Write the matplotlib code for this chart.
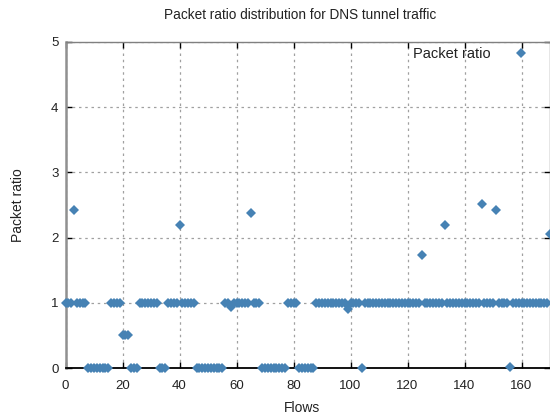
import matplotlib
matplotlib.use("Agg")
import matplotlib.pyplot as plt

# packet ratio per flow (flow index = position in list)
ratios = [
    1, 1, 1, 2.43, 1, 1, 1, 1,                      # 0-7
    0, 0, 0, 0, 0, 0, 0, 0,                         # 8-15
    1, 1, 1, 1,                                     # 16-19
    0.5, 0.5, 0.5,                                  # 20-22
    0, 0, 0,                                        # 23-25
    1, 1, 1, 1, 1, 1, 1,                            # 26-32
    0, 0, 0,                                        # 33-35
    1, 1, 1, 1, 2.19, 1, 1, 1, 1, 1,                # 36-45
    0, 0, 0, 0, 0, 0, 0, 0, 0, 0,                   # 46-55
    1, 1, 0.94, 1, 1, 1, 1, 1, 1, 2.38, 1, 1, 1,    # 56-68
    0, 0, 0, 0, 0, 0, 0, 0, 0,                      # 69-77
    1, 1, 1, 1,                                     # 78-81
    0, 0, 0, 0, 0, 0,                               # 82-87
    1, 1, 1, 1, 1, 1, 1, 1, 1, 1, 1, 0.9,           # 88-99
    1, 1, 1, 1, 0,                                  # 100-104
    1, 1, 1, 1, 1, 1, 1, 1, 1, 1,                   # 105-114
    1, 1, 1, 1, 1, 1, 1, 1, 1, 1, 1.74,             # 115-125
    1, 1, 1, 1, 1, 1, 1, 2.2,                       # 126-133
    1, 1, 1, 1, 1, 1, 1, 1, 1, 1, 1, 1, 2.51,       # 134-146
    1, 1, 1, 1, 2.43,                               # 147-151
    1, 1, 1, 1, 0.02,                               # 152-156
    1, 1, 1, 1, 1, 1, 1, 1, 1, 1, 1, 1, 1,          # 157-169
    2.05,                                           # 170
]
flows = list(range(len(ratios)))

x_ticks = [0, 20, 40, 60, 80, 100, 120, 140, 160]
y_ticks = [0, 1, 2, 3, 4, 5]

plt.rcParams['font.family'] = ['Liberation Sans', 'DejaVu Sans']
txt = '#222222'

fig = plt.figure(figsize=(5.5, 4.19), dpi=100)
ax = fig.add_axes([65.5/550, 51/419, (550-65.5)/550, 326/419])

ax.plot(flows, ratios, 'D', color='#4682b4', markersize=5.2,
        markeredgewidth=0, label='Packet ratio', clip_on=False, zorder=3)

ax.set_xlim(0, 170)
ax.set_ylim(0, 5)
ax.set_xticks(x_ticks)
ax.set_yticks(y_ticks)
ax.grid(True, color='#a0a0a0', linestyle=(0, (2, 3)), linewidth=0.9)
ax.set_axisbelow(True)

ax.tick_params(direction='in', length=4, width=1, colors='black',
               labelcolor=txt, labelsize=9.5, top=True, right=True, pad=5)
ax.tick_params(axis='x', pad=8.5)

for s in ['top', 'right']:
    ax.spines[s].set_color('#808080')
    ax.spines[s].set_linewidth(1)
ax.spines['left'].set_color('#909090')
ax.spines['left'].set_linewidth(1.8)
ax.spines['bottom'].set_color('black')
ax.spines['bottom'].set_linewidth(1.3)

leg = ax.legend(loc='upper right', frameon=False, markerfirst=False,
                fontsize=10.5, handlelength=2.5, borderaxespad=0.2,
                bbox_to_anchor=(0.995, 1.01))
for t in leg.get_texts():
    t.set_color(txt)

fig.text(300/550, 1 - 15/419, 'Packet ratio distribution for DNS tunnel traffic',
         ha='center', va='center', fontsize=9.8, color=txt)
fig.text(302/550, 1 - 408/419, 'Flows', ha='center', va='center',
         fontsize=10, color=txt)
fig.text(18/550, 1 - 205/419, 'Packet ratio', ha='center', va='center',
         rotation=90, fontsize=10, color=txt)

fig.savefig('out.png', dpi=100)
